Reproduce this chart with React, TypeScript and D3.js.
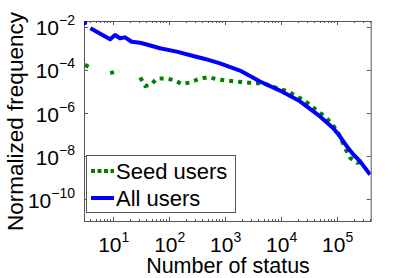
import React, { useEffect, useRef } from 'react';
import * as d3 from 'd3';

// x = number of status, y = normalized frequency (null = gap, log of zero)
const allX = [3.2, 4, 9, 11, 13.5, 16.6, 21.8, 30.8, 40.5, 70, 139, 275, 445, 824, 1875, 4270, 9720, 22100, 50400, 87000, 114000, 151000, 198000, 260000, 394000];
const allY = [1.5e-2, 8.5e-3, 2.6e-3, 4.1e-3, 2.9e-3, 3.2e-3, 2.0e-3, 1.8e-3, 1.5e-3, 1.0e-3, 7.0e-4, 4.4e-4, 3.2e-4, 2.0e-4, 9.3e-5, 2.9e-5, 1.1e-5, 3.5e-6, 7.0e-7, 2.0e-7, 8.4e-8, 2.9e-8, 1.2e-8, 5.9e-9, 1.4e-9];
// the first point is isolated in the original
const allGapAfter = [0];

const seedX = [3.2, 4, 5, 9, 13, 20, 31, 38, 48, 61, 92, 130, 171, 240, 338, 510, 719, 1085, 2150, 3240, 4890, 6900, 9720, 13700, 19300, 27200, 35800, 46900, 66200, 86900, 107000, 141000, 173000, 228000, 320000];
const seedY = [1.7e-4, 1.25e-4, null, 7.1e-5, 9.0e-5, null, 4.4e-5, 1.8e-5, 2.0e-5, 3.9e-5, 4.0e-5, 3.2e-5, 2.2e-5, 2.6e-5, 3.7e-5, 4.6e-5, 3.7e-5, 3.2e-5, 2.7e-5, 2.4e-5, 2.4e-5, 1.7e-5, 1.3e-5, 1.0e-5, 5.9e-6, 3.7e-6, 2.0e-6, 1.2e-6, 5.9e-7, 2.6e-7, 1.2e-7, 2.4e-8, 8.5e-9, 5.0e-9, 5.5e-9];

const xTicks = [1e1, 1e2, 1e3, 1e4, 1e5];
const yTicks = [1e-2, 1e-4, 1e-6, 1e-8, 1e-10];
const xExp = ['1', '2', '3', '4', '5'];
const yExp = ['\u22122', '\u22124', '\u22126', '\u22128', '\u221210'];
const legendLabels = ['Seed users', 'All users'];

const W = 409;
const H = 278;
const FONT = 'Liberation Sans, Arial, Helvetica, sans-serif';

const App = () => {
  const svgRef = useRef<SVGSVGElement>(null);

  useEffect(() => {
    if (!svgRef.current) return;
    const svg = d3.select(svgRef.current);
    svg.selectAll('*').remove();

    const left = 84, right = 370.7, top = 21, bottom = 221;

    const x = d3.scaleLog().domain([3.07, 4.05e5]).range([left, right]);
    const y = d3.scaleLog().domain([1e-11, Math.pow(10, -1.737)]).range([bottom, top]);

    const axisColor = '#555';

    // minor x ticks
    const minor: number[] = [];
    for (let e = 0; e <= 5; e++) {
      for (let m = 2; m <= 9; m++) {
        const v = m * Math.pow(10, e);
        if (v >= 3.07 && v <= 4.05e5) minor.push(v);
      }
    }
    const g = svg.append('g');
    minor.forEach(v => {
      const px = Math.round(x(v)) + 0.5;
      g.append('line').attr('x1', px).attr('x2', px).attr('y1', bottom).attr('y2', bottom - 2).attr('stroke', axisColor);
      g.append('line').attr('x1', px).attr('x2', px).attr('y1', top).attr('y2', top + 2).attr('stroke', axisColor);
    });
    xTicks.forEach(v => {
      const px = Math.round(x(v)) + 0.5;
      g.append('line').attr('x1', px).attr('x2', px).attr('y1', bottom).attr('y2', bottom - 4).attr('stroke', axisColor);
      g.append('line').attr('x1', px).attr('x2', px).attr('y1', top).attr('y2', top + 4).attr('stroke', axisColor);
    });
    yTicks.forEach(v => {
      const py = Math.round(y(v)) + 0.5;
      g.append('line').attr('x1', left).attr('x2', left + 4).attr('y1', py).attr('y2', py).attr('stroke', axisColor);
      g.append('line').attr('x1', right).attr('x2', right - 4).attr('y1', py).attr('y2', py).attr('stroke', axisColor);
    });

    // box
    g.append('rect')
      .attr('x', left + 0.5).attr('y', top + 0.5)
      .attr('width', right - left).attr('height', bottom - top)
      .attr('fill', 'none').attr('stroke', axisColor);

    // tick labels
    xTicks.forEach((v, i) => {
      const t = g.append('text')
        .attr('x', x(v) + 1).attr('y', 251.5)
        .attr('text-anchor', 'middle')
        .attr('font-family', FONT).attr('font-size', 21).attr('fill', '#000');
      t.append('tspan').text('10');
      t.append('tspan').attr('dy', -10).attr('font-size', 14).text(xExp[i]);
    });
    yTicks.forEach((v, i) => {
      const t = g.append('text')
        .attr('x', 75).attr('y', y(v) + 8.5)
        .attr('text-anchor', 'end')
        .attr('font-family', FONT).attr('font-size', 21).attr('fill', '#000');
      t.append('tspan').text('10');
      t.append('tspan').attr('dy', -10).attr('font-size', 14).text(yExp[i]);
    });

    // axis labels
    g.append('text')
      .attr('x', 228).attr('y', 273)
      .attr('text-anchor', 'middle')
      .attr('font-family', FONT).attr('font-size', 21.5).attr('fill', '#000')
      .text('Number of status');
    g.append('text')
      .attr('transform', `translate(23,121.5) rotate(-90)`)
      .attr('text-anchor', 'middle')
      .attr('font-family', FONT).attr('font-size', 22.5).attr('fill', '#000')
      .text('Normalized frequency');

    // data lines
    const clip = svg.append('clipPath').attr('id', 'plotclip');
    clip.append('rect').attr('x', left).attr('y', top).attr('width', right - left).attr('height', bottom - top);
    const plot = svg.append('g').attr('clip-path', 'url(#plotclip)');

    const seed = seedX.map((d, i) => ({ x: d, y: seedY[i] }));
    const all = allX.map((d, i) => ({ x: d, y: allY[i] as number | null }));

    const line = d3.line<{ x: number; y: number | null }>()
      .defined(d => d.y != null)
      .x(d => x(d.x))
      .y(d => y(d.y as number));

    plot.append('path')
      .attr('d', line(seed))
      .attr('fill', 'none')
      .attr('stroke', '#008000')
      .attr('stroke-width', 4)
      .attr('stroke-dasharray', '4,5');

    // blue: isolated first point then line
    allGapAfter.forEach(i => {
      plot.append('circle')
        .attr('cx', x(all[i].x)).attr('cy', y(all[i].y as number))
        .attr('r', 2.2).attr('fill', '#0000ff');
    });
    plot.append('path')
      .attr('d', line(all.slice(1)))
      .attr('fill', 'none')
      .attr('stroke', '#0000ff')
      .attr('stroke-width', 4)
      .attr('stroke-linejoin', 'round');

    // legend
    const lg = svg.append('g');
    lg.append('rect')
      .attr('x', 86.5).attr('y', 155.5).attr('width', 149).attr('height', 57)
      .attr('fill', '#fff').attr('stroke', axisColor);
    const legendColors = ['#008000', '#0000ff'];
    const legendDash = ['4,2.5', null];
    [171, 198].forEach((ly, i) => {
      const l = lg.append('line')
        .attr('x1', 91).attr('x2', 114).attr('y1', ly).attr('y2', ly)
        .attr('stroke', legendColors[i]).attr('stroke-width', 4);
      if (legendDash[i]) l.attr('stroke-dasharray', legendDash[i]);
      lg.append('text')
        .attr('x', 116).attr('y', ly + 8)
        .attr('font-family', FONT).attr('font-size', 22).attr('fill', '#000')
        .text(legendLabels[i]);
    });
  }, []);

  return (
    <svg
      ref={svgRef}
      width={W}
      height={H}
      style={{ position: 'absolute', left: 0, top: 0, background: '#fff' }}
    />
  );
};

export default App;
